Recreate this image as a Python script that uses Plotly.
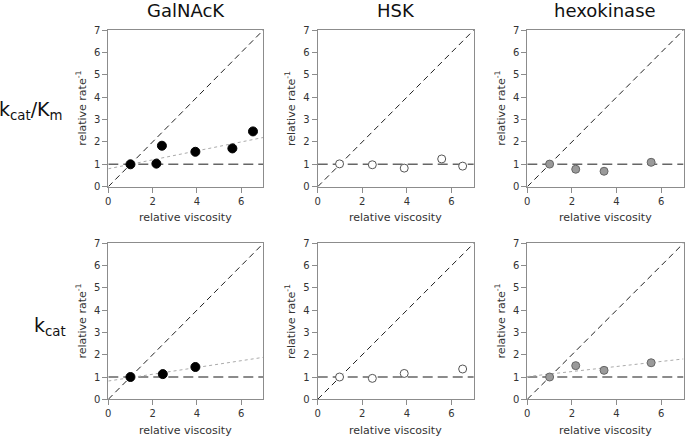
import plotly.graph_objects as go

W, H = 685, 437

enzymes = ["GalNAcK", "HSK", "hexokinase"]
row_labels = ["k<sub>cat</sub>/K<sub>m</sub>", "k<sub>cat</sub>"]
x_title = "relative viscosity"
y_title = "relative rate<sup>-1</sup>"
x_ticks = [0, 2, 4, 6]
y_ticks = [0, 1, 2, 3, 4, 5, 6, 7]
axis_range = [0, 7]

# row 1: kcat/Km
galnack_kcatkm_x = [1.0, 2.17, 2.42, 3.93, 5.6, 6.53]
galnack_kcatkm_y = [1.0, 1.03, 1.83, 1.56, 1.71, 2.47]
hsk_kcatkm_x = [0.98, 2.45, 3.88, 5.56, 6.5]
hsk_kcatkm_y = [1.02, 0.98, 0.83, 1.24, 0.92]
hexo_kcatkm_x = [1.0, 2.17, 3.44, 5.55]
hexo_kcatkm_y = [1.01, 0.78, 0.69, 1.09]
# row 2: kcat
galnack_kcat_x = [1.0, 2.46, 3.93]
galnack_kcat_y = [1.0, 1.13, 1.45]
hsk_kcat_x = [0.98, 2.45, 3.88, 6.5]
hsk_kcat_y = [1.0, 0.94, 1.16, 1.36]
hexo_kcat_x = [1.0, 2.17, 3.44, 5.55]
hexo_kcat_y = [1.0, 1.51, 1.30, 1.64]

# dotted linear fits (intercept, slope); None = no fit drawn
fits = [[(0.80, 0.20), None, None],
        [(0.82, 0.152), None, (1.02, 0.113)]]

data = [[(galnack_kcatkm_x, galnack_kcatkm_y), (hsk_kcatkm_x, hsk_kcatkm_y), (hexo_kcatkm_x, hexo_kcatkm_y)],
        [(galnack_kcat_x, galnack_kcat_y), (hsk_kcat_x, hsk_kcat_y), (hexo_kcat_x, hexo_kcat_y)]]

marker_styles = [dict(color="black", size=9, line=dict(color="black", width=1)),
                 dict(color="white", size=8, line=dict(color="#555555", width=1)),
                 dict(color="#9a9a9a", size=8, line=dict(color="#666666", width=1))]

# pixel layout
col_px = [(108.3, 263.4), (317.7, 473.8), (527.3, 683.5)]
row_px = [(30.0, 186.7), (243.3, 399.3)]

def px_x(p):
    return p / W

def px_y(p):
    return 1 - p / H

fig = go.Figure()
layout = dict(width=W, height=H, margin=dict(l=0, r=0, t=0, b=0, autoexpand=False),
              paper_bgcolor="white", plot_bgcolor="white", showlegend=False,
              font=dict(family="DejaVu Sans", color="#333333"))
annotations = []

axis_common = dict(range=axis_range, showgrid=False, zeroline=False, showline=True,
                   mirror=True, linecolor="#8c8c8c", linewidth=1, ticks="outside",
                   ticklen=5, tickcolor="#8c8c8c", tickfont=dict(size=10, color="#333333"),
                   automargin=False)

k = 0
for r in range(2):
    for c in range(3):
        k += 1
        xa = "x" if k == 1 else f"x{k}"
        ya = "y" if k == 1 else f"y{k}"
        layout["xaxis" if k == 1 else f"xaxis{k}"] = dict(
            domain=[px_x(col_px[c][0]), px_x(col_px[c][1])], anchor=ya,
            tickvals=x_ticks, **axis_common)
        layout["yaxis" if k == 1 else f"yaxis{k}"] = dict(
            domain=[px_y(row_px[r][1]), px_y(row_px[r][0])], anchor=xa,
            tickvals=y_ticks, **axis_common)
        # diagonal y = x
        fig.add_trace(go.Scatter(x=axis_range, y=axis_range, mode="lines", xaxis=xa, yaxis=ya,
                                 line=dict(color="#222222", width=1, dash="6px,4px"), hoverinfo="skip"))
        # horizontal y = 1
        fig.add_trace(go.Scatter(x=axis_range, y=[1, 1], mode="lines", xaxis=xa, yaxis=ya,
                                 line=dict(color="#666666", width=1.5, dash="10px,5px"), hoverinfo="skip"))
        f = fits[r][c]
        if f is not None:
            b0, m = f
            fig.add_trace(go.Scatter(x=axis_range, y=[b0 + m * axis_range[0], b0 + m * axis_range[1]],
                                     mode="lines", xaxis=xa, yaxis=ya,
                                     line=dict(color="#aaaaaa", width=1, dash="dot"), hoverinfo="skip"))
        xs, ys = data[r][c]
        fig.add_trace(go.Scatter(x=xs, y=ys, mode="markers", xaxis=xa, yaxis=ya,
                                 marker=marker_styles[c], cliponaxis=False))
        # axis titles
        cx = (col_px[c][0] + col_px[c][1]) / 2
        cy = (row_px[r][0] + row_px[r][1]) / 2
        annotations.append(dict(text=x_title, x=px_x(cx), y=px_y(row_px[r][1] + 31),
                                xref="paper", yref="paper", showarrow=False,
                                xanchor="center", yanchor="middle",
                                font=dict(size=11, color="#333333")))
        annotations.append(dict(text=y_title, x=px_x(col_px[c][0] - 27), y=px_y(cy),
                                xref="paper", yref="paper", showarrow=False, textangle=-90,
                                xanchor="center", yanchor="middle",
                                font=dict(size=11, color="#333333")))

for c in range(3):
    cx = (col_px[c][0] + col_px[c][1]) / 2
    annotations.append(dict(text=enzymes[c], x=px_x(cx), y=px_y(10), xref="paper", yref="paper",
                            showarrow=False, xanchor="center", yanchor="middle",
                            font=dict(size=18, color="#111111")))

row_label_pos = [(31, 110), (50, 326)]
for r in range(2):
    annotations.append(dict(text=row_labels[r], x=px_x(row_label_pos[r][0]), y=px_y(row_label_pos[r][1]),
                            xref="paper", yref="paper", showarrow=False,
                            xanchor="center", yanchor="middle",
                            font=dict(size=19, color="#111111")))

layout["annotations"] = annotations
fig.update_layout(**layout)
fig.write_html("out.html", config={"displayModeBar": False, "staticPlot": True},
               post_script="document.body.style.margin='0';document.body.style.padding='0';"
                           "document.documentElement.style.overflow='hidden';")
